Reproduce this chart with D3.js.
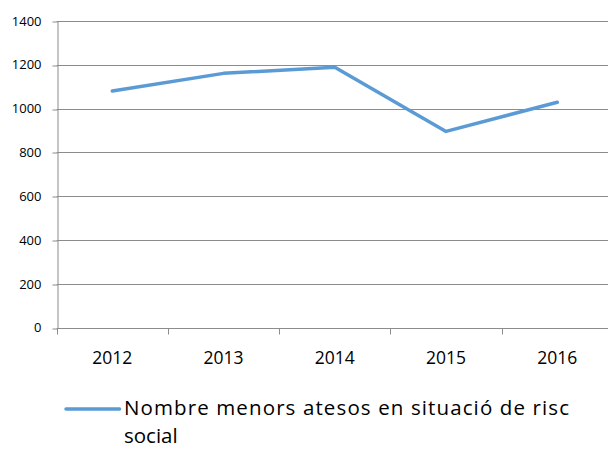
<!DOCTYPE html>
<html>
<head>
<meta charset="utf-8">
<script src="https://cdn.jsdelivr.net/npm/d3@7"></script>
<style>
  html, body { margin: 0; padding: 0; background: #fff; }
  svg { display: block; }
  text { font-family: "Open Sans", sans-serif; fill: #000; }
</style>
</head>
<body>
<svg id="chart" width="608" height="451"></svg>
<script>
const years = ["2012", "2013", "2014", "2015", "2016"];
const menorsAtesos = [1080, 1161, 1189, 896, 1029];
const yTicks = [0, 200, 400, 600, 800, 1000, 1200, 1400];
const seriesName = "Nombre menors atesos en situació de risc social";

(function () {
  const svg = d3.select("#chart");
  const plotLeft = 56.7, plotRight = 612.9, plotTop = 21, plotBottom = 327.7;

  const x = d3.scaleBand().domain(years).range([plotLeft, plotRight]);
  const y = d3.scaleLinear().domain([0, 1400]).range([plotBottom, plotTop]);
  const snap = v => Math.round(v) + 0.5;

  // horizontal gridlines
  svg.append("g").selectAll("line").data(yTicks.filter(d => d > 0)).join("line")
    .attr("x1", plotLeft).attr("x2", 608)
    .attr("y1", d => snap(y(d))).attr("y2", d => snap(y(d)))
    .attr("stroke", "#8c8c8c").attr("stroke-width", 1);

  // y axis
  const yAxis = svg.append("g").attr("transform", `translate(${snap(plotLeft)},0)`)
    .call(d3.axisLeft(y).tickValues(yTicks).tickFormat(d3.format("d"))
      .tickSize(5).tickPadding(11).tickSizeOuter(0));
  yAxis.select(".domain").attr("stroke", "#8c8c8c");
  yAxis.selectAll(".tick line").attr("stroke", "#8c8c8c")
    .attr("transform", d => `translate(0,${snap(y(d)) - y(d)})`);
  yAxis.selectAll(".tick text").attr("font-size", 13).attr("font-family", "Open Sans").attr("fill", "#000");

  // x axis with ticks on category boundaries
  const xAxisG = svg.append("g").attr("transform", `translate(0,${snap(plotBottom)})`);
  xAxisG.append("line").attr("x1", plotLeft).attr("x2", 608).attr("stroke", "#8c8c8c");
  const bounds = years.map(d => x(d)).concat([x(years[years.length - 1]) + x.bandwidth()]);
  xAxisG.selectAll("line.tk").data(bounds.filter(b => b < 608)).join("line").attr("class", "tk")
    .attr("x1", d => snap(d)).attr("x2", d => snap(d))
    .attr("y1", 0).attr("y2", 6).attr("stroke", "#8c8c8c");
  xAxisG.selectAll("text").data(years).join("text")
    .attr("x", d => x(d) + x.bandwidth() / 2).attr("y", 35)
    .attr("text-anchor", "middle").attr("font-size", 17.5).text(d => d);

  // series line
  const line = d3.line().x((d, i) => x(years[i]) + x.bandwidth() / 2).y(d => y(d));
  svg.append("path").datum(menorsAtesos)
    .attr("d", line).attr("fill", "none")
    .attr("stroke", "#5b9bd5").attr("stroke-width", 3.5)
    .attr("stroke-linejoin", "round").attr("stroke-linecap", "round");

  // legend
  const lg = svg.append("g");
  lg.append("line").attr("x1", 66).attr("x2", 119.5).attr("y1", 409).attr("y2", 409)
    .attr("stroke", "#5b9bd5").attr("stroke-width", 3.5).attr("stroke-linecap", "round");
  const words = seriesName.split(" ");
  const line1 = words.slice(0, words.length - 1).join(" ");
  const line2 = words[words.length - 1];
  lg.append("text").attr("x", 124).attr("y", 415).attr("font-size", 20.5)
    .attr("textLength", 445).attr("lengthAdjust", "spacing").text(line1);
  lg.append("text").attr("x", 124).attr("y", 443).attr("font-size", 20.5).text(line2);
})();
</script>
</body>
</html>
